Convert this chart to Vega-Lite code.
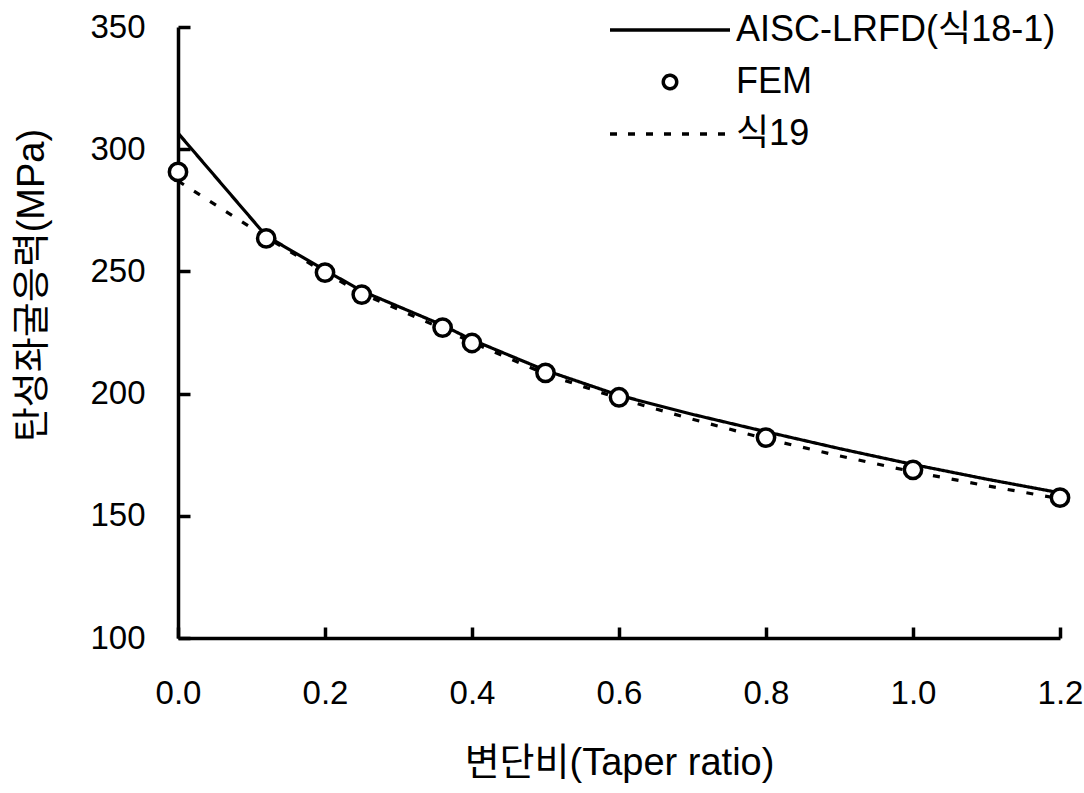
{
  "$schema": "https://vega.github.io/schema/vega-lite/v6.json",
  "width": 882,
  "height": 611,
  "autosize": "none",
  "padding": {"left": 178, "top": 27, "right": 24, "bottom": 155},
  "background": "white",
  "config": {
    "view": {"stroke": null},
    "font": "Liberation Sans, Noto Sans CJK KR",
    "axis": {
      "domainColor": "black", "domainWidth": 3.5,
      "grid": false, "labelColor": "black", "titleColor": "black",
      "labelFont": "Liberation Sans, Noto Sans CJK KR", "titleFont": "Liberation Sans, Noto Sans CJK KR",
      "labelFontSize": 33, "titleFontSize": 38, "titleFontWeight": "normal"
    }
  },
  "datasets": {
    "lines": [
      {"series": "AISC-LRFD(식18-1)", "x": 0.0, "y": 306.6},
      {"series": "AISC-LRFD(식18-1)", "x": 0.12, "y": 264.5},
      {"series": "AISC-LRFD(식18-1)", "x": 0.2, "y": 250.5},
      {"series": "AISC-LRFD(식18-1)", "x": 0.25, "y": 242.0},
      {"series": "AISC-LRFD(식18-1)", "x": 0.36, "y": 228.0},
      {"series": "AISC-LRFD(식18-1)", "x": 0.4, "y": 222.0},
      {"series": "AISC-LRFD(식18-1)", "x": 0.5, "y": 209.5},
      {"series": "AISC-LRFD(식18-1)", "x": 0.6, "y": 199.3},
      {"series": "AISC-LRFD(식18-1)", "x": 0.7, "y": 191.5},
      {"series": "AISC-LRFD(식18-1)", "x": 0.8, "y": 184.4},
      {"series": "AISC-LRFD(식18-1)", "x": 0.9, "y": 177.5},
      {"series": "AISC-LRFD(식18-1)", "x": 1.0, "y": 171.0},
      {"series": "AISC-LRFD(식18-1)", "x": 1.1, "y": 165.0},
      {"series": "AISC-LRFD(식18-1)", "x": 1.2, "y": 159.4},
      {"series": "식19", "x": 0.0, "y": 287.0},
      {"series": "식19", "x": 0.12, "y": 264.0},
      {"series": "식19", "x": 0.2, "y": 249.5},
      {"series": "식19", "x": 0.25, "y": 241.0},
      {"series": "식19", "x": 0.36, "y": 226.5},
      {"series": "식19", "x": 0.4, "y": 221.0},
      {"series": "식19", "x": 0.5, "y": 208.0},
      {"series": "식19", "x": 0.6, "y": 198.0},
      {"series": "식19", "x": 0.7, "y": 189.5},
      {"series": "식19", "x": 0.8, "y": 181.5},
      {"series": "식19", "x": 0.9, "y": 174.5},
      {"series": "식19", "x": 1.0, "y": 168.0},
      {"series": "식19", "x": 1.1, "y": 162.3},
      {"series": "식19", "x": 1.2, "y": 157.0}
    ],
    "fem": [
      {"series": "FEM", "x": 0.0, "y": 290.7},
      {"series": "FEM", "x": 0.12, "y": 263.5},
      {"series": "FEM", "x": 0.2, "y": 249.5},
      {"series": "FEM", "x": 0.25, "y": 240.5},
      {"series": "FEM", "x": 0.36, "y": 227.0},
      {"series": "FEM", "x": 0.4, "y": 220.7},
      {"series": "FEM", "x": 0.5, "y": 208.5},
      {"series": "FEM", "x": 0.6, "y": 198.5},
      {"series": "FEM", "x": 0.8, "y": 182.0},
      {"series": "FEM", "x": 1.0, "y": 168.8},
      {"series": "FEM", "x": 1.2, "y": 157.4}
    ]
  },
  "encoding": {
    "color": {
      "field": "series", "type": "nominal",
      "scale": {"domain": ["AISC-LRFD(식18-1)", "FEM", "식19"], "range": ["black", "black", "black"]},
      "legend": {
        "title": null, "orient": "none", "legendX": 470, "legendY": -19, "padding": 0,
        "symbolType": "M -3 0 L 3 0", "symbolSize": 1600, "symbolStrokeWidth": 3,
        "symbolStrokeColor": "black",
        "labelFontSize": 36, "labelColor": "black", "labelOffset": 44, "rowPadding": 12, "labelLimit": 0,
        "labelFont": "Liberation Sans, Noto Sans CJK KR",
        "encode": {
          "symbols": {
            "update": {
              "shape": {"signal": "datum.value === 'FEM' ? 'circle' : 'M -3 0 L 3 0'"},
              "size": {"signal": "datum.value === 'FEM' ? 180 : 1600"},
              "strokeDash": {"signal": "datum.value === '식19' ? [7, 11] : [1, 0]"},
              "fillOpacity": {"value": 0},
              "strokeWidth": {"value": 3.5},
              "opacity": {"value": 1}
            }
          }
        }
      }
    }
  },
  "layer": [
    {
      "data": {"name": "lines"},
      "mark": {"type": "line", "strokeWidth": 3.2, "interpolate": "linear"},
      "encoding": {
        "x": {
          "field": "x", "type": "quantitative",
          "scale": {"domain": [0, 1.2], "nice": false, "zero": false},
          "axis": {
            "orient": "bottom", "title": "변단비(Taper ratio)", "values": [0, 0.2, 0.4, 0.6, 0.8, 1.0, 1.2],
            "format": ".1f", "ticks": true, "tickSize": -11, "tickColor": "black", "tickWidth": 3.5,
            "labelPadding": 50, "titlePadding": 34, "labelFlush": false
          }
        },
        "y": {
          "field": "y", "type": "quantitative",
          "scale": {"domain": [100, 350], "nice": false, "zero": false},
          "axis": {
            "orient": "left", "title": "탄성좌굴응력(MPa)", "values": [100, 150, 200, 250, 300, 350],
            "ticks": true, "tickSize": -12, "tickColor": "black", "tickWidth": 3.5,
            "labelPadding": 45, "titlePadding": 38, "titleY": 258, "labelFlush": false
          }
        },
        "strokeDash": {
          "field": "series", "type": "nominal",
          "scale": {"domain": ["AISC-LRFD(식18-1)", "식19"], "range": [[1, 0], [7, 12]]},
          "legend": null
        }
      }
    },
    {
      "data": {"name": "fem"},
      "mark": {"type": "point", "shape": "circle", "filled": true, "fill": "white", "stroke": "black", "strokeWidth": 3.5, "size": 300, "opacity": 1},
      "encoding": {
        "x": {"field": "x", "type": "quantitative"},
        "y": {"field": "y", "type": "quantitative"}
      }
    }
  ]
}
